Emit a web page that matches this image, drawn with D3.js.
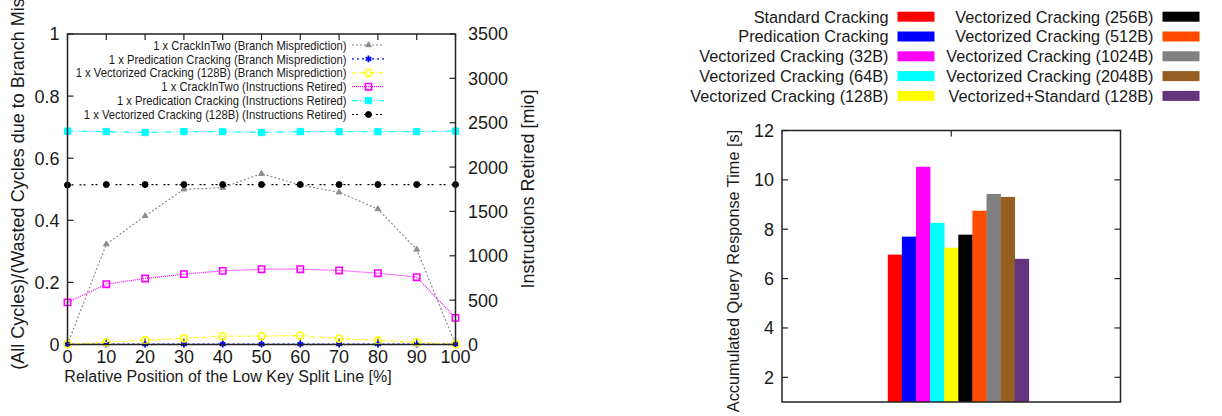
<!DOCTYPE html>
<html lang="en">
<head>
  <meta charset="UTF-8">
  <script src="https://cdn.jsdelivr.net/npm/d3@7"></script>
  <title>Cracking</title>
  <style>
    body { margin: 0; background: white; }
    svg { display: block; font-family: "Liberation Sans", Arial, Helvetica, sans-serif; }
    .frame { fill: none; stroke: #222; stroke-width: 1.5; }
    .tick { stroke: #222; stroke-width: 1.2; }
    text { fill: #1a1a1a; }
  </style>
</head>
<body>
<script>
  // ---------- data: left chart ----------
  const splitPos = [0, 10, 20, 30, 40, 50, 60, 70, 80, 90, 100];
  const crackInTwoMiss = [0, 0.323, 0.414, 0.50, 0.505, 0.55, 0.514, 0.49, 0.436, 0.306, 0];
  const predicationMiss = [0.001, 0.001, 0.001, 0.001, 0.001, 0.001, 0.001, 0.001, 0.001, 0.001, 0.001];
  const vectorized128Miss = [0.001, 0.007, 0.014, 0.02, 0.027, 0.027, 0.029, 0.019, 0.013, 0.007, 0.001];
  const crackInTwoInstr = [475, 680, 744, 793, 830, 849, 849, 835, 804, 759, 300];
  const predicationInstr = [2405, 2400, 2390, 2400, 2400, 2390, 2400, 2400, 2400, 2400, 2405];
  const vectorized128Instr = [1798, 1803, 1803, 1803, 1803, 1803, 1803, 1803, 1803, 1803, 1803];
  const leftTicks = [0, 0.2, 0.4, 0.6, 0.8, 1];
  const rightTicks = [0, 500, 1000, 1500, 2000, 2500, 3000, 3500];

  // ---------- data: right chart ----------
  const algorithms = ["Standard Cracking", "Predication Cracking", "Vectorized Cracking (32B)",
    "Vectorized Cracking (64B)", "Vectorized Cracking (128B)", "Vectorized Cracking (256B)",
    "Vectorized Cracking (512B)", "Vectorized Cracking (1024B)", "Vectorized Cracking (2048B)",
    "Vectorized+Standard (128B)"];
  const responseTime = [6.97, 7.7, 10.53, 8.26, 7.25, 7.78, 8.75, 9.43, 9.31, 6.8];
  const barColors = ["#ff0000", "#0000ff", "#ff00ff", "#00ffff", "#ffff00", "#000000",
    "#ff4a00", "#808080", "#965f22", "#64357c"];
  const timeTicks = [2, 4, 6, 8, 10, 12];

  const svg = d3.select("body").append("svg")
    .attr("width", 1222)
    .attr("height", 416);

  /******************************* left chart *******************************/
  const x = d3.scaleLinear().domain([0, 100]).range([67.5, 455.5]);
  const yL = d3.scaleLinear().domain([0, 1]).range([344.5, 34]);
  const yR = d3.scaleLinear().domain([0, 3500]).range([344.5, 34]);

  const left = svg.append("g");
  const tl = 6;

  left.selectAll("line.xt").data(splitPos).enter().append("line").attr("class", "tick")
    .attr("x1", d => x(d)).attr("x2", d => x(d)).attr("y1", yL(0)).attr("y2", yL(0) - tl);
  left.selectAll("line.xt2").data(splitPos).enter().append("line").attr("class", "tick")
    .attr("x1", d => x(d)).attr("x2", d => x(d)).attr("y1", yL(1)).attr("y2", yL(1) + tl);
  left.selectAll("line.yt").data(leftTicks).enter().append("line").attr("class", "tick")
    .attr("x1", x(0)).attr("x2", x(0) + tl).attr("y1", d => yL(d)).attr("y2", d => yL(d));
  left.selectAll("line.yr").data(rightTicks).enter().append("line").attr("class", "tick")
    .attr("x1", x(100)).attr("x2", x(100) - tl).attr("y1", d => yR(d)).attr("y2", d => yR(d));

  left.selectAll("text.xl").data(splitPos).enter().append("text")
    .attr("x", d => x(d)).attr("y", 363).attr("text-anchor", "middle")
    .style("font-size", "18px").text(d => d);
  left.selectAll("text.yl").data(leftTicks).enter().append("text")
    .attr("x", 59.5).attr("y", d => yL(d)).attr("dy", "0.36em").attr("text-anchor", "end")
    .style("font-size", "18px").text(d => d);
  left.selectAll("text.yr").data(rightTicks).enter().append("text")
    .attr("x", 468).attr("y", d => yR(d)).attr("dy", "0.36em")
    .style("font-size", "18px").text(d => d);

  left.append("text").attr("x", 228).attr("y", 381.5).attr("text-anchor", "middle")
    .style("font-size", "16px").text("Relative Position of the Low Key Split Line [%]");
  left.append("text").attr("transform", "translate(24,176.5) rotate(-90)").attr("text-anchor", "middle")
    .style("font-size", "18px").text("(All Cycles)/(Wasted Cycles due to Branch Miss)");
  left.append("text").attr("transform", "translate(534,189) rotate(-90)").attr("text-anchor", "middle")
    .style("font-size", "18px").text("Instructions Retired [mio]");

  const series = [
    { name: "1 x CrackInTwo (Branch Misprediction)", values: crackInTwoMiss, y: yL, color: "#8c8c8c", dash: "2,2", sym: d3.symbolTriangle, size: 14, fill: true },
    { name: "1 x Predication Cracking (Branch Misprediction)", values: predicationMiss, y: yL, color: "#0000ff", dash: "2,3", sym: d3.symbolAsterisk, size: 30, fill: false, sw: 1.8 },
    { name: "1 x Vectorized Cracking (128B) (Branch Misprediction)", values: vectorized128Miss, y: yL, color: "#ffff00", dash: "4,2,1,2", sym: d3.symbolCircle, size: 40, fill: false, sw: 1.6 },
    { name: "1 x CrackInTwo (Instructions Retired)", values: crackInTwoInstr, y: yR, color: "#ff00ff", dash: "1,1", sym: d3.symbolSquare, size: 40, fill: false, sw: 1.6 },
    { name: "1 x Predication Cracking (Instructions Retired)", values: predicationInstr, y: yR, color: "#00ffff", dash: "6,2,1,2,1,2", sym: d3.symbolSquare, size: 40, fill: true },
    { name: "1 x Vectorized Cracking (128B) (Instructions Retired)", values: vectorized128Instr, y: yR, color: "#000000", dash: "2,2,2,6", sym: d3.symbolCircle, size: 28, fill: true }
  ];

  const line = s => d3.line().x((d, i) => x(splitPos[i])).y(d => s.y(d));

  function marker(g, s, cx, cy) {
    g.append("path")
      .attr("d", d3.symbol().type(s.sym).size(s.size))
      .attr("transform", `translate(${cx},${cy})`)
      .attr("fill", s.fill ? s.color : "none")
      .attr("stroke", s.color)
      .attr("stroke-width", s.sw || 1);
  }

  const legY = d3.scaleLinear().domain([0, 1]).range([45, 58.9]);

  series.forEach((s, k) => {
    const g = left.append("g");
    g.append("path").datum(s.values)
      .attr("d", line(s))
      .attr("fill", "none").attr("stroke", s.color)
      .attr("stroke-width", 1.2).attr("stroke-dasharray", s.dash);
    s.values.forEach((v, i) => marker(g, s, x(splitPos[i]), s.y(v)));

    // legend entry, text a bit condensed like the original
    const ly = legY(k);
    left.append("text").attr("transform", `translate(346.5,${ly}) scale(0.88,1)`).attr("dy", "0.36em")
      .attr("text-anchor", "end").style("font-size", "12.8px").text(s.name);
    g.append("line").attr("x1", 352).attr("x2", 384).attr("y1", ly).attr("y2", ly)
      .attr("stroke", s.color).attr("stroke-width", 1.2).attr("stroke-dasharray", s.dash);
    marker(g, s, 368.5, ly);
  });

  left.append("rect").attr("class", "frame")
    .attr("x", x(0)).attr("y", yL(1)).attr("width", x(100) - x(0)).attr("height", yL(0) - yL(1));

  /******************************* right chart *******************************/
  const bx = d3.scaleLinear().domain([-1, 1]).range([782, 1120.5]);
  const by = d3.scaleLinear().domain([1, 12]).range([402, 130.5]);
  const barW = 1 / 12;

  const right = svg.append("g");

  right.selectAll("rect.bar").data(responseTime).enter().append("rect")
    .attr("class", "bar")
    .attr("x", (d, i) => bx(-0.5 + 1.5 * barW + i * barW))
    .attr("width", bx(barW) - bx(0) + 0.3)
    .attr("y", d => by(d))
    .attr("height", d => by(1) - by(d))
    .attr("fill", (d, i) => barColors[i]);

  right.selectAll("line.yt").data(timeTicks).enter().append("line").attr("class", "tick")
    .attr("x1", bx(-1)).attr("x2", bx(-1) + tl).attr("y1", d => by(d)).attr("y2", d => by(d));
  right.selectAll("line.yt2").data(timeTicks).enter().append("line").attr("class", "tick")
    .attr("x1", bx(1)).attr("x2", bx(1) - tl).attr("y1", d => by(d)).attr("y2", d => by(d));
  right.append("line").attr("class", "tick")
    .attr("x1", bx(0)).attr("x2", bx(0)).attr("y1", by(12)).attr("y2", by(12) + tl);

  right.selectAll("text.yl").data(timeTicks).enter().append("text")
    .attr("x", 774).attr("y", d => by(d)).attr("dy", "0.36em").attr("text-anchor", "end")
    .style("font-size", "18px").text(d => d);
  right.append("text").attr("transform", "translate(739,271) rotate(-90)").attr("text-anchor", "middle")
    .style("font-size", "16.3px").text("Accumulated Query Response Time [s]");

  right.append("rect").attr("class", "frame")
    .attr("x", bx(-1)).attr("y", by(12)).attr("width", bx(1) - bx(-1)).attr("height", by(1) - by(12));

  // legend: two columns of five
  const legRow = d3.scaleLinear().domain([0, 1]).range([16.7, 36.5]);
  const legCols = [{ textX: 888.5, boxX: 897.5 }, { textX: 1153.5, boxX: 1162.5 }];
  algorithms.forEach((name, i) => {
    const c = legCols[Math.floor(i / 5)];
    const ly = legRow(i % 5);
    right.append("text").attr("x", c.textX).attr("y", ly).attr("dy", "0.36em")
      .attr("text-anchor", "end").style("font-size", "16.3px").text(name);
    right.append("rect").attr("x", c.boxX).attr("y", ly - 5).attr("width", 37).attr("height", 10)
      .attr("fill", barColors[i]);
  });
</script>
</body>
</html>
